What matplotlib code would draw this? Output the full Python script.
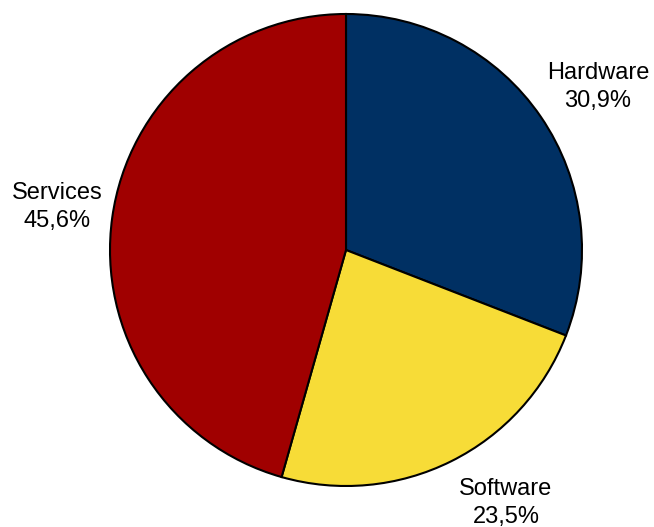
import matplotlib.pyplot as plt

plt.rcParams['font.family'] = ['Liberation Sans', 'DejaVu Sans']

categories = ['Hardware', 'Software', 'Services']
shares = [30.9, 23.5, 45.6]
colors = ['#003063', '#F7DC37', '#A00000']

labels = [f"{c}\n{str(v).replace('.', ',')}%" for c, v in zip(categories, shares)]

# label centres in figure pixels (from top-left)
label_px = [(598, 87), (506, 503), (57, 207)]

fig = plt.figure(figsize=(6.54, 5.27), dpi=100)
ax = fig.add_axes([0, 0, 1, 1])

R = 236.0
cx, cy = 346.0, 250.0
wedges, texts = ax.pie(shares, colors=colors, startangle=90,
                       counterclock=False, radius=1,
                       wedgeprops=dict(edgecolor='black', linewidth=1.5))

for lab, (px, py) in zip(labels, label_px):
    ax.text((px - cx) / R, (cy - py) / R, lab, ha='center', va='center',
            fontsize=17, linespacing=1.4, color='black')

ax.set_xlim(-cx / R, (654 - cx) / R)
ax.set_ylim(-(527 - cy) / R, cy / R)
ax.set_aspect('equal')
ax.axis('off')

fig.savefig('out.png', dpi=100)
